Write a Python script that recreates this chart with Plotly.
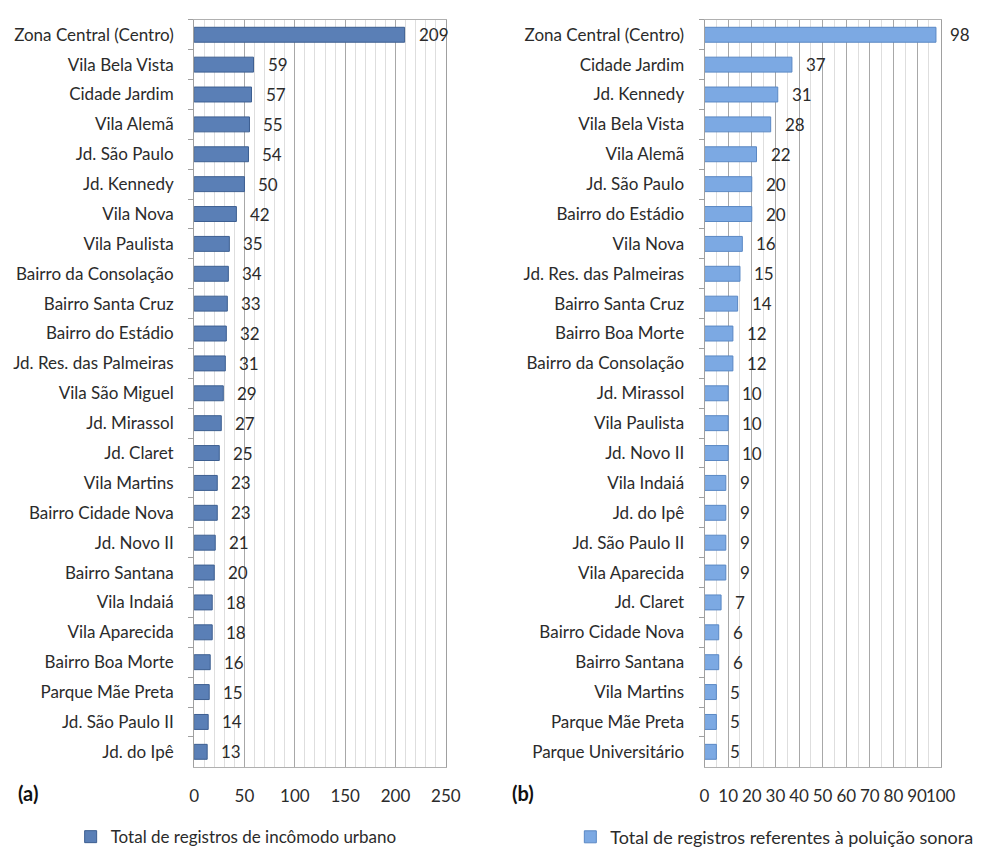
import plotly.graph_objects as go

# Panel (a)
cats_a = ["Zona Central (Centro)", "Vila Bela Vista", "Cidade Jardim", "Vila Alemã", "Jd. São Paulo",
          "Jd. Kennedy", "Vila Nova", "Vila Paulista", "Bairro da Consolação", "Bairro Santa Cruz",
          "Bairro do Estádio", "Jd. Res. das Palmeiras", "Vila São Miguel", "Jd. Mirassol", "Jd. Claret",
          "Vila Martins", "Bairro Cidade Nova", "Jd. Novo II", "Bairro Santana", "Vila Indaiá",
          "Vila Aparecida", "Bairro Boa Morte", "Parque Mãe Preta", "Jd. São Paulo II", "Jd. do Ipê"]
vals_a = [209, 59, 57, 55, 54, 50, 42, 35, 34, 33, 32, 31, 29, 27, 25, 23, 23, 21, 20, 18, 18, 16, 15, 14, 13]

# Panel (b)
cats_b = ["Zona Central (Centro)", "Cidade Jardim", "Jd. Kennedy", "Vila Bela Vista", "Vila Alemã",
          "Jd. São Paulo", "Bairro do Estádio", "Vila Nova", "Jd. Res. das Palmeiras", "Bairro Santa Cruz",
          "Bairro Boa Morte", "Bairro da Consolação", "Jd. Mirassol", "Vila Paulista", "Jd. Novo II",
          "Vila Indaiá", "Jd. do Ipê", "Jd. São Paulo II", "Vila Aparecida", "Jd. Claret",
          "Bairro Cidade Nova", "Bairro Santana", "Vila Martins", "Parque Mãe Preta", "Parque Universitário"]
vals_b = [98, 37, 31, 28, 22, 20, 20, 16, 15, 14, 12, 12, 10, 10, 10, 9, 9, 9, 9, 7, 6, 6, 5, 5, 5]

ticks_a = [0, 50, 100, 150, 200, 250]
ticks_b = [0, 10, 20, 30, 40, 50, 60, 70, 80, 90, 100]

name_a = "Total de registros de incômodo urbano"
name_b = "Total de registros referentes à poluição sonora"

FONT = "Lato"
FS = 17
TXT = "#2b2b2b"
W, H = 989, 856

fig = go.Figure()
fig.add_trace(go.Bar(y=cats_a, x=vals_a, orientation="h", name=name_a,
                     marker=dict(color="#5a7fb6", line=dict(color="#3d5f91", width=1)),
                     xaxis="x", yaxis="y", legend="legend", width=0.5))
fig.add_trace(go.Bar(y=cats_b, x=vals_b, orientation="h", name=name_b,
                     marker=dict(color="#7ca9e3", line=dict(color="#5a88c4", width=1)),
                     xaxis="x2", yaxis="y2", legend="legend2", width=0.5))

anns = []
for c, v in zip(cats_a, vals_a):
    anns.append(dict(x=v, y=c, xref="x", yref="y", text=str(v), showarrow=False,
                     xanchor="left", xshift=12, font=dict(size=FS, color=TXT, family=FONT)))
for c, v in zip(cats_b, vals_b):
    anns.append(dict(x=v, y=c, xref="x2", yref="y2", text=str(v), showarrow=False,
                     xanchor="left", xshift=12, font=dict(size=FS, color=TXT, family=FONT)))
anns.append(dict(x=23 / W, y=1 - 800 / H, xref="paper", yref="paper", text="<b>(a)</b>",
                 xanchor="center", yanchor="middle",
                 showarrow=False, font=dict(size=20, color="#111", family=FONT)))
anns.append(dict(x=529 / W, y=1 - 800 / H, xref="paper", yref="paper", text="<b>(b)</b>",
                 xanchor="center", yanchor="middle",
                 showarrow=False, font=dict(size=20, color="#111", family=FONT)))

ydom = [1 - 774 / H, 1 - 20 / H]

def xax(dom, rng, tickvals, minor, anchor):
    return dict(domain=dom, range=rng, tickvals=tickvals, anchor=anchor, tickangle=0,
                showgrid=True, gridcolor="#a8a8a8", gridwidth=1,
                minor=dict(dtick=minor, showgrid=True, gridcolor="#dedede", gridwidth=1),
                showline=True, linecolor="#b0b0b0", mirror=True, zeroline=False,
                ticks="", ticklabelstandoff=14,
                tickfont=dict(size=FS, color=TXT, family=FONT), fixedrange=True)

def yax(dom, cats, anchor):
    return dict(domain=dom, categoryorder="array", categoryarray=cats, autorange="reversed",
                anchor=anchor, showgrid=False, showline=True, linecolor="#a0a0a0", mirror=True,
                ticks="outside", tickson="boundaries", ticklen=5, tickcolor="#a0a0a0",
                ticklabelstandoff=16,
                tickfont=dict(size=FS, color=TXT, family=FONT), fixedrange=True)

fig.update_layout(
    width=W, height=H,
    margin=dict(l=0, r=0, t=0, b=0),
    paper_bgcolor="white", plot_bgcolor="white",
    font=dict(family=FONT, color=TXT),
    showlegend=True,
    xaxis=xax([193 / W, 450 / W], [0, 250], ticks_a, 10, "y"),
    yaxis=yax(ydom, cats_a, "x"),
    xaxis2=xax([714 / W, 955 / W], [0, 100], ticks_b, 5, "y2"),
    yaxis2=yax(ydom, cats_b, "x2"),
    legend=dict(x=67 / W, y=1 - 845 / H, xanchor="left", yanchor="middle",
                orientation="h", bgcolor="rgba(0,0,0,0)", font=dict(size=17, color=TXT, family=FONT)),
    legend2=dict(x=577 / W, y=1 - 845 / H, xanchor="left", yanchor="middle",
                 orientation="h", bgcolor="rgba(0,0,0,0)", font=dict(size=18, color=TXT, family=FONT)),
    annotations=anns,
)

fig.write_html("out.html")
